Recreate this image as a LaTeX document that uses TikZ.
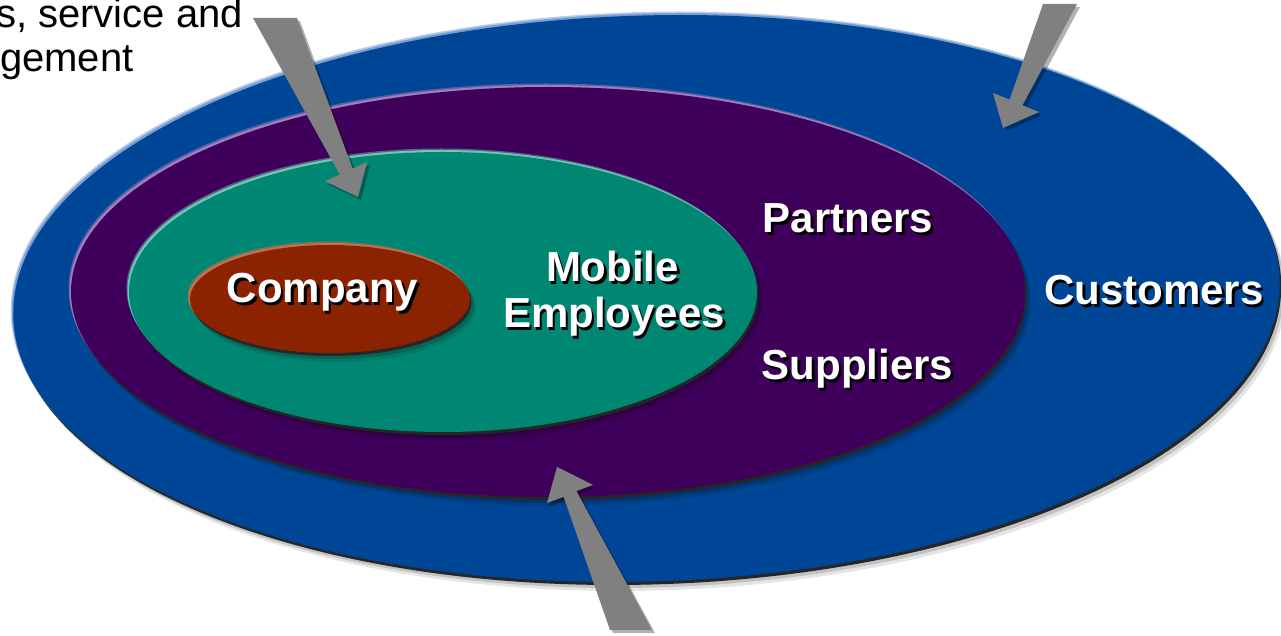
\documentclass[tikz,border=0pt]{standalone}
\usepackage{fontspec}
\setmainfont{Liberation Sans}
\usetikzlibrary{shapes.geometric,shadows}
\definecolor{custblue}{RGB}{0,70,150}
\definecolor{custlight}{RGB}{120,160,215}
\definecolor{partpurple}{RGB}{62,0,90}
\definecolor{partlight}{RGB}{165,125,185}
\definecolor{mobgreen}{RGB}{0,135,115}
\definecolor{moblight}{RGB}{110,200,180}
\definecolor{compred}{RGB}{140,35,0}
\definecolor{complight}{RGB}{200,110,80}
\definecolor{arrowgray}{RGB}{128,128,128}
\newcommand\shadowlabel[3]{%
  \node[labsh,xshift=2.5bp,yshift=-2.5bp] at (#2) {#3};
  \node[lab] (#1) at (#2) {#3};}
\begin{document}
\begin{tikzpicture}[x=1bp,y=1bp,
  ring/.style n args={2}{ellipse, inner sep=0pt, fill=#1,
    general shadow={fill=black, opacity=0.10, shadow xshift=6bp, shadow yshift=-9bp},
    general shadow={fill=black, opacity=0.15, shadow xshift=4bp, shadow yshift=-6bp},
    general shadow={fill=black!85, shadow xshift=1.5bp, shadow yshift=-3bp},
    general shadow={fill=#2, opacity=0.5, shadow xshift=-2.5bp, shadow yshift=3.5bp},
    general shadow={fill=#2, shadow xshift=-1.5bp, shadow yshift=2bp}},
  lab/.style={font=\fontsize{42bp}{46bp}\selectfont\bfseries, text=white, inner sep=0pt, anchor=base},
  labsh/.style={lab, text=black},
  note/.style={font=\fontsize{40bp}{44bp}\selectfont, text=black, inner sep=0pt},
  blockarrow/.style={fill=arrowgray,
    preaction={fill=black, opacity=0.3, transform canvas={xshift=3bp,yshift=-3bp}}}
]
\useasboundingbox (0,0) rectangle (1281,-636);
\clip (0,0) rectangle (1281,-636);
\fill[white] (0,0) rectangle (1281,-636);

% rings
\node[ring={custblue}{custlight}, minimum width=1267bp, minimum height=566bp, rotate=1.7] (customers) at (646.5,-298.5) {};
\node[ring={partpurple}{partlight}, minimum width=954bp, minimum height=410bp] (partners) at (548,-292) {};
\node[ring={mobgreen}{moblight}, minimum width=628bp, minimum height=280bp] (mobile) at (443,-292) {};
\node[ring={compred}{complight}, minimum width=280bp, minimum height=108bp] (company) at (330,-299) {};

% labels
\shadowlabel{companylabel}{322.5,-303}{Company}
\shadowlabel{mobilelabel}{612.5,-282}{Mobile}
\shadowlabel{employeeslabel}{614,-328}{Employees}
\shadowlabel{partnerslabel}{848,-233}{Partners}
\shadowlabel{supplierslabel}{857.5,-380}{Suppliers}
\shadowlabel{customerslabel}{1154,-305}{Customers}

% cropped note text
\node[note, anchor=base east] (salesnote) at (243,-28) {s, service and};
\node[note, anchor=base west] (mgmtnote) at (0,-72) {gement};

% block arrows
\fill[blockarrow] (253,-18) -- (297,-18) -- (352.6,-168.7) -- (367.1,-161.9) -- (358,-197) -- (325.3,-181.3) -- (339.8,-174.5) -- cycle;
\fill[blockarrow] (1043,-4) -- (1077,-4) -- (1022.4,-105.4) -- (1039,-112) -- (1003,-128) -- (993,-93) -- (1009.6,-99.6) -- cycle;
\fill[blockarrow] (610,-630) -- (652,-630) -- (576.4,-491.1) -- (593,-485) -- (557,-467) -- (547,-503) -- (563.6,-496.9) -- cycle;
\end{tikzpicture}
\end{document}
